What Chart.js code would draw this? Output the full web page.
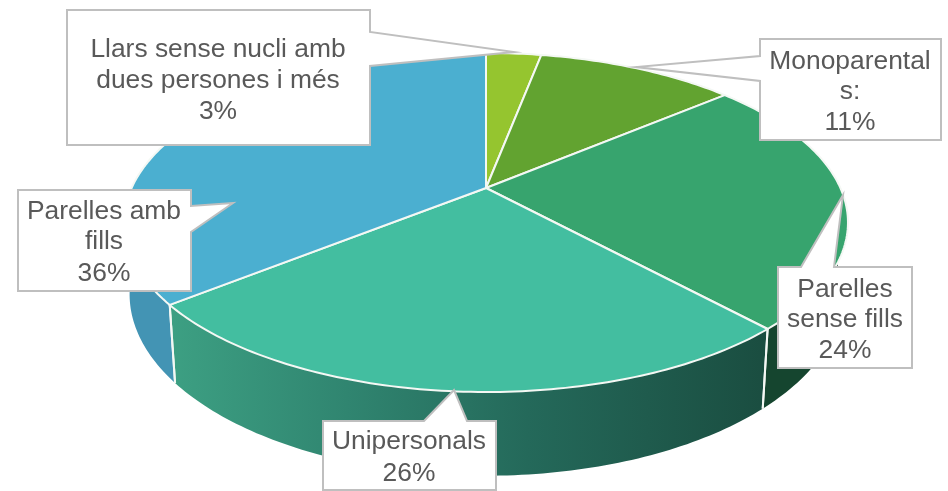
<!DOCTYPE html>
<html lang="ca">
    <head>
        <meta charset="UTF-8" />
        <title>Llars</title>
        <script src="https://cdn.jsdelivr.net/npm/chart.js@4/dist/chart.umd.js"></script>
        <style>
            html, body { margin: 0; padding: 0; background: #fff; }
            canvas { display: block; }
        </style>
    </head>
    <body>
        <canvas id="chart" width="948" height="491"></canvas>
        <script>
            const categories = ['Llars sense nucli amb dues persones i més', 'Monoparentals:', 'Parelles sense fills', 'Unipersonals', 'Parelles amb fills'];
            const values = [3, 10.8, 24.4, 26.0, 35.8];
            const labelLines = [
                ['Llars sense nucli amb', 'dues persones i més'],
                ['Monoparental', 's:'],
                ['Parelles', 'sense fills'],
                ['Unipersonals'],
                ['Parelles amb', 'fills']
            ];
            const topColors = ['#95c52f', '#62a330', '#37a46e', '#43bea0', '#4bafd0'];

            // tilted disc: apex, half axes, perspective, thickness
            const view = { x: 486, y: 188, c: 354.4, b: 162.5, p: 0.2035, q: 0.015, d: 71 };

            // outline of each callout, then text centre and baselines
            const callouts = [
                { outline: [[67, 10], [370, 10], [370, 32], [514, 52], [370, 66], [370, 145], [67, 145]], cx: 218, base: [57, 88, 119] },
                { outline: [[760, 39], [941, 39], [941, 140], [760, 140], [760, 81], [636, 67], [760, 56]], cx: 850, base: [69, 99, 130] },
                { outline: [[778, 267], [801, 267], [843, 195], [834, 267], [912, 267], [912, 368], [778, 368]], cx: 845, base: [297, 327, 358] },
                { outline: [[323, 421], [424, 421], [454, 390], [467, 421], [496, 421], [496, 490], [323, 490]], cx: 409, base: [449, 481] },
                { outline: [[18, 190], [191, 190], [191, 206], [233, 203], [191, 232], [191, 291], [18, 291]], cx: 104, base: [219, 249, 281] }
            ];

            function project(angle, z) {
                const u = Math.cos(angle), v = Math.sin(angle);
                const w = 1 - view.p * v + view.q * z;
                return [view.x + view.c * u / w, view.y + (view.b * v + view.d * z) / w];
            }

            function rim(ctx, from, to, z) {
                const steps = Math.max(4, Math.ceil(Math.abs(to - from) * 60));
                for (let i = 0; i <= steps; i++) {
                    const p = project(from + (to - from) * i / steps, z);
                    ctx.lineTo(p[0], p[1]);
                }
            }

            function wallFill(ctx, i) {
                if (i === 3) {
                    const g = ctx.createLinearGradient(167, 0, 768, 0);
                    g.addColorStop(0, '#3da083');
                    g.addColorStop(0.3, '#308570');
                    g.addColorStop(0.6, '#24695a');
                    g.addColorStop(1, '#1a4d40');
                    return g;
                }
                if (i === 2) return '#15452f';
                if (i === 4) return '#4394b4';
                return '#3a7a30';
            }

            const pie3d = {
                id: 'pie3d',
                beforeDatasetsDraw(chart) {
                    const ctx = chart.ctx;
                    const arcs = chart.getDatasetMeta(0).data;
                    ctx.save();
                    ctx.strokeStyle = '#f4f8f4';
                    ctx.lineWidth = 2;
                    ctx.lineJoin = 'round';
                    // side walls first, then the top faces over them
                    arcs.forEach((arc, i) => {
                        ctx.beginPath();
                        rim(ctx, arc.startAngle, arc.endAngle, 0);
                        rim(ctx, arc.endAngle, arc.startAngle, 1);
                        ctx.closePath();
                        ctx.fillStyle = wallFill(ctx, i);
                        ctx.fill();
                    });
                    arcs.forEach((arc) => {
                        [arc.startAngle, arc.endAngle].forEach((a) => {
                            const p0 = project(a, 0), p1 = project(a, 1);
                            if (Math.sin(a) > 0) {
                                ctx.beginPath();
                                ctx.moveTo(p0[0], p0[1]);
                                ctx.lineTo(p1[0], p1[1]);
                                ctx.stroke();
                            }
                        });
                    });
                    arcs.forEach((arc, i) => {
                        ctx.beginPath();
                        ctx.moveTo(view.x, view.y);
                        rim(ctx, arc.startAngle, arc.endAngle, 0);
                        ctx.closePath();
                        ctx.fillStyle = topColors[i];
                        ctx.fill();
                        ctx.stroke();
                    });
                    ctx.restore();
                    return false;
                },
                afterDraw(chart) {
                    const ctx = chart.ctx;
                    ctx.save();
                    callouts.forEach((c, i) => {
                        ctx.beginPath();
                        c.outline.forEach((p) => ctx.lineTo(p[0], p[1]));
                        ctx.closePath();
                        ctx.fillStyle = '#fff';
                        ctx.fill();
                        ctx.strokeStyle = '#bfbfbf';
                        ctx.lineWidth = 2;
                        ctx.stroke();

                        ctx.fillStyle = '#595959';
                        ctx.font = '26.4px "Liberation Sans"';
                        ctx.textAlign = 'center';
                        ctx.textBaseline = 'alphabetic';
                        const lines = labelLines[i].concat(Math.round(values[i]) + '%');
                        lines.forEach((t, n) => ctx.fillText(t, c.cx, c.base[n]));
                    });
                    ctx.restore();
                }
            };

            new Chart(document.getElementById('chart').getContext('2d'), {
                type: 'pie',
                data: {
                    labels: categories,
                    datasets: [{ data: values, backgroundColor: topColors }]
                },
                options: {
                    responsive: false,
                    animation: false,
                    plugins: { legend: { display: false }, tooltip: { enabled: false } }
                },
                plugins: [pie3d]
            });
        </script>
    </body>
</html>
